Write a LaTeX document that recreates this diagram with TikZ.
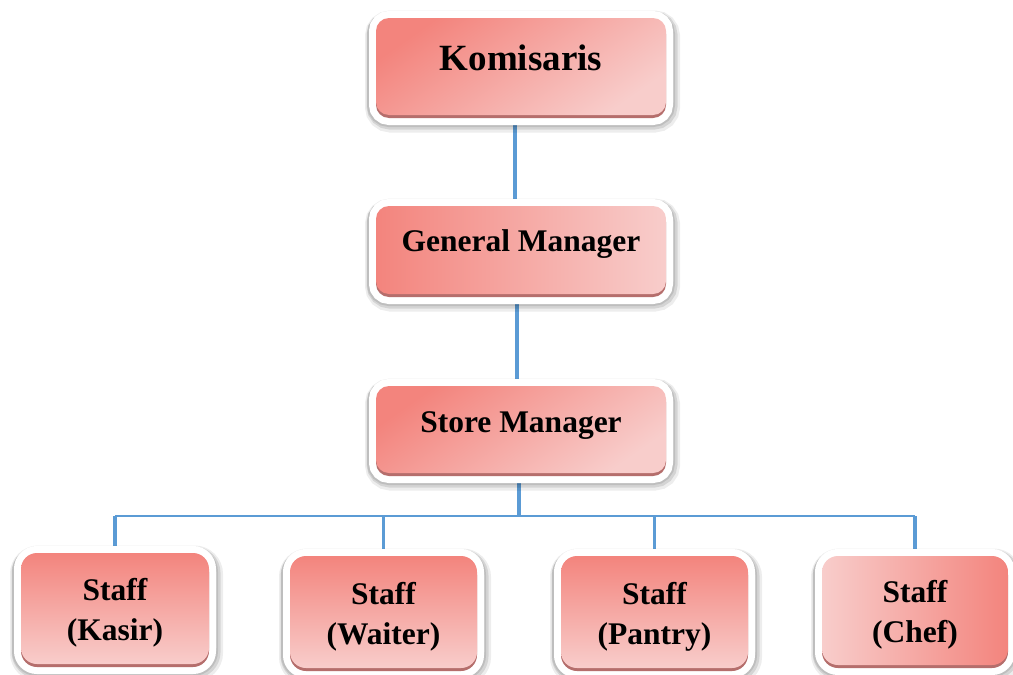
\documentclass[tikz,border=0pt]{standalone}
\usepackage{fontspec}
\setmainfont{Liberation Serif}
\usetikzlibrary{backgrounds}
\definecolor{pinkdark}{HTML}{F3847D}
\definecolor{pinklight}{HTML}{F8CDCB}
\definecolor{bevelred}{HTML}{B56E6C}
\definecolor{linkblue}{HTML}{5B9BD5}
\newcommand{\topgap}{\rule{0pt}{31pt}}
\tikzset{
  orgbox/.style={rounded corners=13pt, inner sep=0pt, align=center, text=black,
    font=\bfseries\fontsize{31.5}{40}\selectfont,
    preaction={draw=black, draw opacity=.07, line width=25pt, transform canvas={xshift=1.5pt, yshift=-5pt}},
    preaction={draw=black, draw opacity=.10, line width=21pt, transform canvas={xshift=1pt, yshift=-4pt}},
    preaction={draw=black, draw opacity=.10, line width=18pt, transform canvas={yshift=-3pt}},
    preaction={draw=white, line width=14pt},
    preaction={draw=white, line width=14pt, transform canvas={yshift=-3pt}},
    preaction={fill=bevelred, transform canvas={yshift=-3pt}}},
  staffbox/.style={orgbox, rounded corners=16pt, minimum width=187pt, minimum height=110pt},
  vshade/.style={top color=pinkdark, bottom color=pinklight},
  dshade/.style={top color=pinkdark, bottom color=pinklight, shading angle=35},
  conn/.style={draw=linkblue, line width=3.6pt},
  busline/.style={draw=linkblue, line width=2.2pt}
}
\begin{document}
\begin{tikzpicture}[x=1pt,y=1pt]
\useasboundingbox (0,0) rectangle (1013,-675);
\node[orgbox, dshade, minimum width=290pt, minimum height=97pt,
      font=\bfseries\fontsize{37}{44}\selectfont, text height=7pt, text depth=0pt]
      (kom) at (521,-66.5) {Komisaris};
\node[orgbox, left color=pinkdark, right color=pinklight, minimum width=290pt, minimum height=88pt,
      text height=3.4pt, text depth=0pt]
      (gm) at (521,-250) {General Manager};
\node[orgbox, dshade, minimum width=290pt, minimum height=87pt,
      text height=6.4pt, text depth=0pt]
      (sm) at (521,-429.5) {Store Manager};
\node[staffbox, vshade, minimum width=188pt, minimum height=111pt] (kasir) at (115,-608.5) {\topgap Staff\\(Kasir)};
\node[staffbox, vshade, minimum height=112pt] (waiter) at (383.5,-612) {\topgap Staff\\(Waiter)};
\node[staffbox, vshade, minimum height=112pt] (pantry) at (654.5,-612) {\topgap Staff\\(Pantry)};
\node[staffbox, left color=pinklight, right color=pinkdark, minimum width=186pt, minimum height=109pt] (chef) at (915,-610.5) {\topgap Staff\\(Chef)};
\coordinate (bus) at (519,-516);
\begin{pgfonlayer}{background}
  \fill[white] (0,0) rectangle (1013,-675);
  \draw[conn] ([xshift=-6pt]kom.center) -- ([xshift=-6pt]gm.center);
  \draw[conn] ([xshift=-4pt]gm.center) -- ([xshift=-4pt]sm.center);
  \draw[conn] (sm.center -| bus) -- (bus);
  \draw[busline] (kasir.center |- bus) -- (chef.center |- bus);
  \draw[conn] (bus -| kasir.center) -- (kasir.center);
  \draw[conn] (bus -| waiter.center) -- (waiter.center);
  \draw[conn] (bus -| pantry.center) -- (pantry.center);
  \draw[conn] (bus -| chef.center) -- (chef.center);
\end{pgfonlayer}
\end{tikzpicture}
\end{document}
